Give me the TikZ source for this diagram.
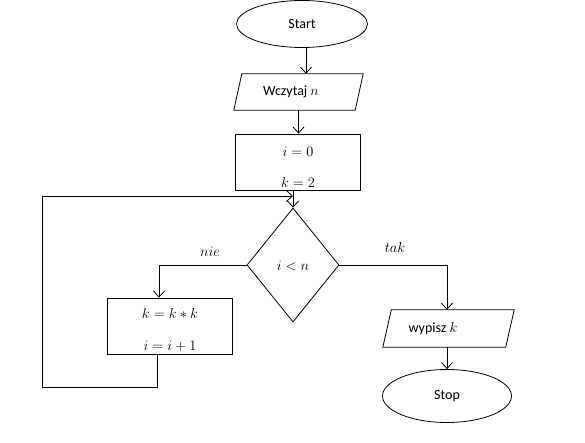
\documentclass[tikz,border=0pt]{standalone}
\usepackage{fontspec}
\setmainfont{Carlito}
\usetikzlibrary{arrows.meta,shapes.geometric,calc}
\tikzset{
  base/.style={draw=black, line width=0.8pt, inner sep=0pt},
  term/.style={base, ellipse},
  iobox/.style={inner sep=0pt, rectangle},
  ioline/.style={draw=black, line width=0.8pt, line join=miter},
  procbox/.style={base, rectangle},
  dec/.style={base, diamond},
  txt/.style={font=\fontsize{14}{16}\selectfont, inner sep=0pt},
  arr/.style={draw=black, line width=0.8pt, -{Straight Barb[length=6pt,width=11pt]}}
}
\begin{document}
\begin{tikzpicture}[x=1pt,y=-1pt]
\useasboundingbox (0,0) rectangle (585,443);
% start
\node[term, minimum width=131pt, minimum height=47pt, font=\fontsize{14}{16}\selectfont] (start) at (302,24) {Start};
% input
\node[iobox, minimum width=129pt, minimum height=36pt] (w1) at (298.5,92) {};
\draw[ioline] ([xshift=8pt]w1.north west) -- (w1.north east) -- ([xshift=-8pt]w1.south east) -- (w1.south west) -- cycle;
\node[txt] (w1t) at (291,92) {Wczytaj $n$};
% init box
\node[procbox, minimum width=125pt, minimum height=56pt] (b1) at (297.5,162) {};
\node[txt] (b1a) at (298,152) {$i=0$};
\node[txt] (b1b) at (298,183) {$k=2$};
% decision
\node[dec, minimum width=92pt, minimum height=114pt] (d) at (293,265) {};
\node[txt] (dt) at (293,266) {$i<n$};
% loop body
\node[procbox, minimum width=125pt, minimum height=56pt] (b2) at (169.5,326) {};
\node[txt] (b2a) at (170,313) {$k=k*k$};
\node[txt] (b2b) at (170,346) {$i=i+1$};
% output
\node[iobox, minimum width=131pt, minimum height=37pt] (w2) at (448.5,328.5) {};
\draw[ioline] ([xshift=8.5pt]w2.north west) -- (w2.north east) -- ([xshift=-8.5pt]w2.south east) -- (w2.south west) -- cycle;
\node[txt] (w2t) at (433,329) {wypisz $k$};
% stop
\node[term, minimum width=129pt, minimum height=53pt, font=\fontsize{14}{16}\selectfont] (stop) at (447,396) {Stop};
% labels
\node[txt] (nie) at (210,252) {$nie$};
\node[txt] (tak) at (395,247) {$tak$};
% helper coordinates
\coordinate (lp1) at (159,0);
\coordinate (lp2) at (447,0);
\coordinate (lb) at (157,387);
\coordinate (lc) at (42,387);
\coordinate (ld) at (42,196);
\coordinate (le) at (293,196);
% connectors
\draw[arr] ([xshift=4pt]start.south) -- ([xshift=4pt]start.south |- w1.north);
\draw[arr] (w1.south) -- (w1.south |- b1.north);
\draw[arr] (d.north |- b1.south) -- (d.north);
\draw[arr] (d.west) -- (d.west -| lp1) -- (lp1 |- b2.north);
\draw[arr] (d.east) -- (d.east -| lp2) -- (lp2 |- w2.north);
\draw[arr] (lp2 |- w2.south) -- (lp2 |- stop.north);
\draw[arr] (lb |- b2.south) -- (lb) -- (lc) -- (ld) -- (le);
\end{tikzpicture}
\end{document}
